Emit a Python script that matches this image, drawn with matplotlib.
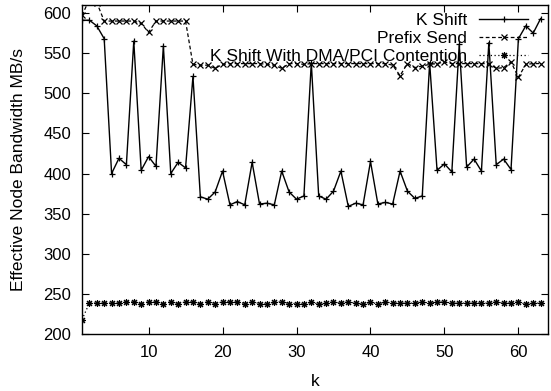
import matplotlib
matplotlib.use("Agg")
import matplotlib.pyplot as plt
import numpy as np

k = list(range(1, 64))
k_shift = [591, 591, 584, 568, 400, 419, 411, 565, 404, 421,
           409, 559, 400, 414, 407, 521, 371, 368, 377, 403,
           361, 365, 361, 414, 362, 363, 361, 403, 377, 368,
           372, 538, 372, 368, 378, 403, 359, 363, 361, 415,
           362, 364, 362, 403, 378, 369, 372, 538, 404, 412,
           402, 561, 408, 418, 403, 563, 411, 418, 405, 568,
           584, 575, 593]
prefix_send = [597, 617, 613, 590, 590, 590, 590, 590, 587, 576,
               590, 590, 590, 590, 590, 536, 535, 535, 531, 536,
               537, 537, 537, 537, 537, 536, 535, 531, 537, 537,
               536, 537, 537, 537, 537, 537, 537, 537, 537, 537,
               537, 537, 535, 522, 537, 532, 534, 536, 537, 539,
               537, 537, 537, 537, 537, 537, 531, 532, 539, 520,
               536, 537, 537]
dma = [218, 238.5, 238.5, 238.5, 238.5, 238.5, 240, 240, 238, 240,
       240, 238, 240, 238, 240, 240, 238, 240, 238, 240,
       240, 240, 238, 240, 238, 237, 240, 240, 238, 238,
       237, 240, 237, 238.5, 240, 238.5, 240, 238.5, 237, 240,
       237, 240, 238.5, 238.5, 238.5, 238.5, 240, 238.5, 240, 240,
       238.5, 238.5, 238.5, 238.5, 238.5, 238.5, 240, 238.5, 238.5, 240,
       237, 238.5, 238.5]
labels = ["K Shift", "Prefix Send", "K Shift With DMA/PCI Contention"]
xticks = [10, 20, 30, 40, 50, 60]
yticks = [200, 250, 300, 350, 400, 450, 500, 550, 600]

plt.rcParams['font.family'] = ['Liberation Sans', 'DejaVu Sans']
fig = plt.figure(figsize=(5.51, 3.91), dpi=100)
ax = fig.add_axes([82/551, 1-334/391, (548-82)/551, (334-5)/391])

ax.plot(k, k_shift, color='black', lw=1.0, marker='+', ms=5, mew=0.9, label=labels[0])
ax.plot(k, prefix_send, color='black', lw=0.9, ls=(0, (3, 2)), marker='x', ms=4, mew=0.9, label=labels[1])
ax.plot(k, dma, color='black', lw=0.9, ls=(0, (1, 2)), marker=(8, 2, 0), ms=5, mew=0.8, label=labels[2])

ax.set_xlim(1, 64)
ax.set_ylim(200, 610)
ax.set_xticks(xticks)
ax.set_yticks(yticks)
ax.tick_params(direction='in', top=True, right=True, length=5, width=0.8, labelsize=12)
ax.tick_params(axis='x', pad=8)
ax.tick_params(axis='y', pad=8)
for s in ax.spines.values():
    s.set_linewidth(1.0)
ax.set_xlabel('k', fontsize=12.5, labelpad=10)
ax.set_ylabel('Effective Node Bandwidth MB/s', fontsize=12.5, labelpad=12)

leg = ax.legend(loc='upper right', bbox_to_anchor=((528-82)/466, (334-13)/329),
                frameon=False, markerfirst=False, fontsize=12.5, handlelength=2.8,
                handletextpad=0.7, labelspacing=0.16, borderpad=0, borderaxespad=0,
                numpoints=1)

fig.savefig('out.png', dpi=100)
